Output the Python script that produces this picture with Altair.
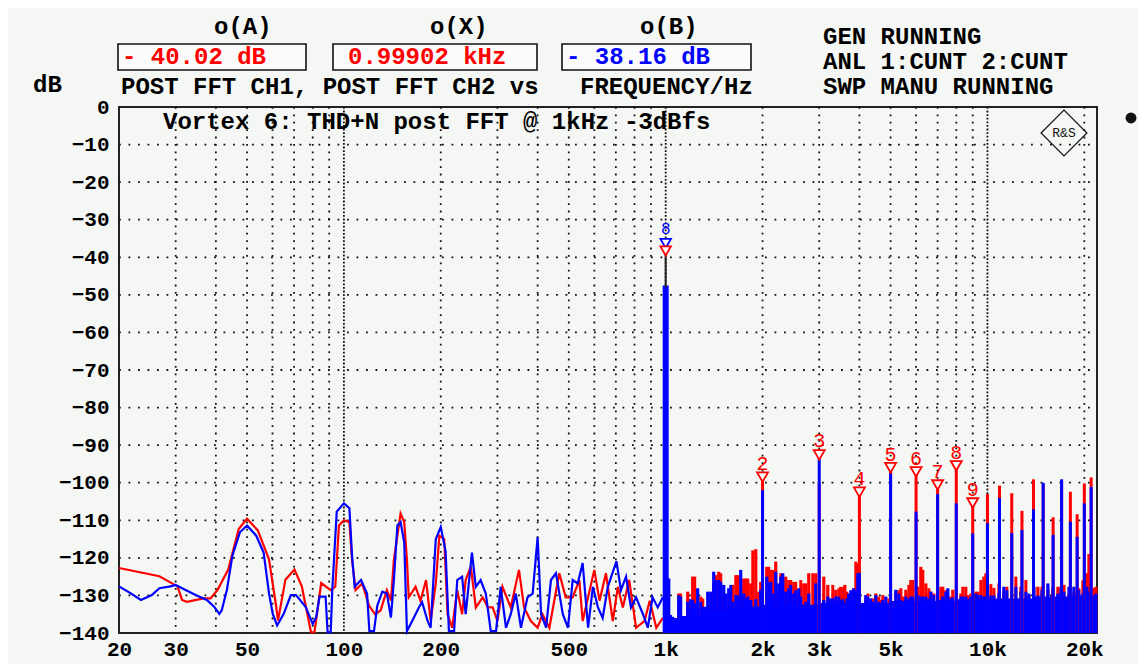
import altair as alt
import pandas as pd

BG = "#f4f7f4"
RED = "#ff0000"
BLUE = "#0000ff"
FONT = "Liberation Mono"

# ---------------- data ----------------
red_lf_f = [20, 26.7, 30.4, 31.4, 32.5, 36.6, 38.5, 40.5, 43.7, 47.1,
            50, 54, 58.5, 61.6, 62.4, 65.8, 70.2, 74, 79, 81,
            85, 91, 94, 96.5, 100, 104, 106, 108.7, 114, 119.6,
            125, 130, 136, 140, 143, 150, 154, 157, 159, 167,
            173, 180, 186, 193, 198, 205, 210, 217, 225, 233,
            239, 248, 257, 270, 280, 290, 300, 311, 330, 350,
            363, 381, 400, 414, 435, 467, 489, 514, 539, 552,
            574, 600, 623, 652, 685, 710, 736, 770, 809, 860,
            892, 935, 980]
red_lf_db = [-122.7, -124.9, -127.6, -131.2, -131.7, -130.8, -130.8, -128.5, -123.1, -112.3,
             -109.6, -112.7, -120.4, -133.0, -136.7, -125.8, -123.1, -127.6, -139.8, -139.8,
             -126.7, -128.6, -127.7, -111.4, -110, -110.5, -120.5, -128.6, -126.8, -132.7,
             -135, -134, -128.6, -131.4, -120.5, -108.2, -110.5, -120.5, -130.5, -127.7,
             -131.4, -125.9, -136.8, -126.8, -114.1, -115, -135, -138.6, -128.6, -135,
             -125.9, -122.3, -133.2, -130.5, -133.2, -133.2, -136.8, -127.7, -133.2, -123.2,
             -133.2, -136.8, -138.6, -135, -138.6, -124.1, -130.5, -130.5, -125.9, -136.8,
             -130.5, -123.2, -131.4, -124.1, -136.8, -127.7, -133.2, -125.9, -138.6, -136.8,
             -131.4, -138.6, -136]

blue_lf_f = [20, 21.7, 23.4, 25.3, 26.7, 28.9, 30, 32.1, 34.6, 37.5,
             39.5, 41, 41.7, 43.3, 45, 47.5, 50, 53.4, 56.3, 58.5,
             60.1, 62, 65, 68.4, 71, 76, 80, 82, 84, 87.7,
             89, 91, 92, 95, 100, 104, 106, 108, 113, 118,
             120, 124, 127, 131.6, 136, 140, 143, 146.6, 150, 154,
             157, 163, 171, 175, 182, 186, 193, 200, 207, 212,
             220, 225, 233, 239, 250, 257, 266, 276, 286, 297,
             307, 319, 330, 342, 355, 372, 386, 400, 410, 425,
             440, 456, 479, 497, 514, 533, 552, 574, 594, 616,
             637, 661, 703, 726, 753, 780, 809, 850, 880, 910,
             945, 980]
blue_lf_db = [-127.6, -129.4, -131.2, -129.9, -128.1, -127.6, -127.2, -128.5, -129.9, -131.2,
              -133, -134.9, -134, -128.5, -119.5, -113.2, -111.4, -114.1, -118.6, -129.4,
              -134.9, -138, -134.9, -129.9, -129.9, -133, -137.6, -135.8, -130.3, -130.3,
              -139.8, -139.8, -128.6, -107.7, -105.5, -106.8, -119.5, -127.7, -125.9, -129.5,
              -139.5, -139.5, -132.7, -129, -129.5, -135.9, -125.9, -111.4, -110.5, -115.9,
              -139.5, -136.8, -133.2, -131.8, -136.8, -138.6, -115, -111.8, -118.2, -139.5,
              -139.5, -125.9, -125, -135, -118.6, -127.7, -125.9, -129.5, -139.5, -139.5,
              -127.7, -138.6, -135, -129.5, -138.6, -130.5, -129.5, -114.5, -135, -138.6,
              -125.9, -124.1, -135, -138.6, -125.9, -126.8, -121.4, -138.6, -127.7, -133.2,
              -136, -127.7, -120.9, -128.6, -125, -133.2, -130.5, -135, -138.6, -130.5,
              -133.2, -130.5]

noise_f = [1022, 1051, 1074, 1098, 1138, 1171, 1196, 1213, 1257, 1303,
           1351, 1380, 1410, 1462, 1515, 1570, 1616, 1675, 1711, 1748,
           1799, 1838, 1905, 1946, 1974, 2061, 2121, 2198, 2246, 2311,
           2361, 2413, 2500, 2592, 2686, 2784, 2927, 3100, 3190, 3259,
           3378, 3501, 3603, 3707, 3842, 3954, 4187, 4339, 4498, 4662,
           4831, 5190, 5379, 5576, 5779, 6208, 6434, 6668, 7265, 7530,
           7804, 8385, 8690, 9336, 9745, 10469, 11247, 12703, 13450, 14346,
           15410, 16555, 17285, 18565, 19803, 20671, 21421]
noise_red = [-135, -137, -138, -129.5, -139, -129, -133, -125, -133, -130.8,
             -134, -133, -126.8, -123.7, -130, -132, -127.2, -124.6, -128, -125.5,
             -125.5, -126.8, -117.7, -129, -126.4, -122.4, -123.2, -121, -129, -127,
             -125, -125.9, -126.4, -129.5, -126.8, -124.1, -124.1, -125, -127.2, -131,
             -128.5, -127.7, -127.2, -131, -128.1, -121.5, -130.3, -132, -129.5, -131.2,
             -132, -129, -128.1, -128.5, -125.9, -122.4, -126.8, -129, -127.7, -130,
             -128.5, -127.7, -129.9, -129, -125, -128, -129, -127.7, -130, -127.7,
             -128.5, -127.7, -127.2, -129, -126, -119, -128]
noise_blue = [-125.5, -135.7, -136, -130, -137.4, -131.7, -131, -131.2, -128.1, -133,
              -129, -129, -123.7, -125.9, -127.2, -128.1, -131.7, -130, -123.2, -129.5,
              -130.3, -131.2, -131, -133, -128.5, -125, -126.4, -123.7, -126.8, -124.1,
              -129, -128.1, -129.5, -128.1, -133.4, -129.5, -126.8, -131.2, -130.3, -130.8,
              -130.3, -131.2, -132, -129.5, -128.1, -124.1, -129.9, -130.8, -129.9, -132,
              -130.3, -128.5, -131.2, -130.3, -130.3, -130.3, -130.3, -129, -130.3, -128.1,
              -130.5, -130.3, -131, -129.9, -130.3, -130, -127.7, -129, -129.5, -130,
              -126.8, -129.5, -129, -127.7, -129.5, -129, -130]

noise2_f = [1036, 1113, 1154, 1231, 1285, 1331, 1431, 1483, 1537, 1593,
            1651, 1773, 1865, 2091, 2151, 2278, 2447, 2536, 2629, 2725,
            2865, 3306, 3452, 3552, 3656, 3761, 3898, 4248, 4403, 4596,
            4729, 4937, 5303, 5457, 5698, 5863, 6077, 6298, 6574, 6813,
            7162, 7424, 7693, 8266, 8567, 8878, 9203, 9538, 9886, 10246,
            10851, 11491, 12255, 13162, 13944, 14764, 15973, 16914, 17910, 19236,
            20378, 21733]
noise2_red = [-137, -129.5, -138, -125, -130.3, -133.4, -124.6, -124.1, -130.3, -128.6,
              -124.6, -125.5, -118, -122.4, -123.2, -124.1, -125.9, -126.4, -125.9, -126.8,
              -124.1, -127.2, -128.1, -127.8, -129, -129.5, -121, -129.5, -130.8, -130.3,
              -129.9, -130.8, -128.6, -130.3, -127.2, -125.9, -127.7, -123.2, -128.1, -129.5,
              -127.7, -128.6, -130.3, -129.5, -127.7, -129.5, -129, -125.9, -124.1, -127,
              -126.8, -127.7, -125, -125.9, -127.7, -127.7, -128.6, -127.7, -129.5, -128.1,
              -124.1, -127.7]
noise2_blue = [-135.2, -130.3, -136.5, -132.1, -131.7, -133, -125.9, -126.4, -129.5, -127.2,
               -129.9, -130.8, -133, -126.4, -129.5, -125, -127.2, -128.6, -130.3, -131.7,
               -132.6, -130.8, -130.3, -131, -130.8, -128.6, -128.6, -130.3, -131.7, -131.7,
               -131.2, -132.1, -129.5, -131.7, -130.8, -130.3, -129.9, -130.3, -130.8, -129.9,
               -131.2, -129, -130.8, -130.3, -130.3, -130.3, -129.5, -129.9, -130.3, -130,
               -129.4, -128.6, -127.7, -129, -127.7, -128.6, -127.7, -128.1, -127.7, -128.6,
               -127.7, -129.5]

floor_f = [1010, 1100, 1300, 1600, 2000, 3000, 5000, 8000, 10000, 14000, 18000, 21900]
floor_db = [-137, -135.5, -134, -133, -132.5, -132, -131.5, -131, -130.8, -130.3, -130, -130]

spike_f = [2000, 3000, 4000, 5000, 6000, 7000, 8000, 9000, 10000, 10900,
           11900, 12800, 13900, 14900, 16000, 17000, 18100, 19000, 20000, 21000]
spike_red = [-98.5, -100, -101.5, -97, -97, -101.5, -96, -106, -103, -100.8,
             -102.8, -107.5, -99.1, -100.5, -109.2, -99.5, -102.4, -108.4, -100.2, -98.6]
spike_blue = [-102, -93.5, -124, -97.5, -107.7, -103, -105.5, -113.5, -110.8, -104.1,
              -113.4, -112.6, -107.1, -100, -113.9, -99.1, -110.4, -114.4, -105.5, -101.1]

fund_f = [1000]
fund_top = [-37.5]
fund_blue_top = [-47.5]

mk_f = [2000, 3000, 4000, 5000, 6000, 7000, 8000, 9000]
mk_num = ["2", "3", "4", "5", "6", "7", "8", "9"]
mk_tri = [-98.5, -92.6, -102.5, -96, -97.1, -100.6, -95.5, -105.4]
mk_txt = [-95, -89, -99.1, -92.6, -93.7, -97.2, -92.1, -101.9]

fund_mk_db = [-36.3, -38.3]
fund_mk_col = ["blue", "red"]

grid_minor_f = [30, 40, 50, 60, 70, 80, 90, 200, 300, 400, 500, 600, 700, 800, 900,
                2000, 3000, 4000, 5000, 6000, 7000, 8000, 9000, 20000]
grid_major_f = [100, 1000, 10000]
grid_db = [-10, -20, -30, -40, -50, -60, -70, -80, -90, -100, -110, -120, -130]

x_ticks = [20, 30, 50, 100, 200, 500, 1000, 2000, 3000, 5000, 10000, 20000]
y_ticks = [0, -10, -20, -30, -40, -50, -60, -70, -80, -90, -100, -110, -120, -130, -140]

# header texts (pixel layout relative to the plot's top-left corner)
hdr_t = ["dB", "o(A)", "o(X)", "o(B)",
         "POST FFT CH1, POST FFT CH2 vs", "FREQUENCY/Hz",
         "GEN RUNNING", "ANL 1:CUNT 2:CUNT", "SWP MANU RUNNING",
         "Vortex 6: THD+N post FFT @ 1kHz -3dBfs"]
hdr_x = [-86, 95, 311, 521, 2, 461, 704, 704, 704, 44]
hdr_y = [-22, -80, -80, -80, -20, -20, -70, -45, -20, 15]

box_t = ["- 40.02 dB", "0.99902 kHz", "- 38.16 dB"]
box_c = ["red", "red", "blue"]
box_x1 = [-1, 214, 443]
box_x2 = [187, 418, 632]
box_tx = [3, 229, 447]

# ---------------- scales / axes ----------------
XS = alt.Scale(type="log", domain=[20, 21900], nice=False)
YS = alt.Scale(domain=[-140, 0], nice=False)
CS = alt.Scale(domain=["red", "blue"], range=[RED, BLUE])

AX = alt.Axis(values=x_ticks, grid=False, ticks=False, domain=False,
              labelExpr="datum.value >= 1000 ? (datum.value / 1000) + 'k' : datum.value",
              labelFont=FONT, labelFontWeight="bold", labelFontSize=21,
              labelColor="#000", labelPadding=5, labelFlush=False, labelOverlap=False)
AY = alt.Axis(values=y_ticks, grid=False, ticks=False, domain=False,
              labelFont=FONT, labelFontWeight="bold", labelFontSize=21,
              labelColor="#000", labelPadding=10, labelOverlap=False)


def X():
    return alt.X("f:Q", scale=XS, axis=AX, title=None)


def Y(field="db"):
    return alt.Y(f"{field}:Q", scale=YS, axis=AY, title=None)


def PX(field):
    return alt.X(f"{field}:Q", scale=None, axis=None)


def PY(field):
    return alt.Y(f"{field}:Q", scale=None, axis=None)


# ---------------- grid ----------------
g_minor = alt.Chart(pd.DataFrame({"f": grid_minor_f, "a": 0, "b": -140})).mark_rule(
    color="#111", strokeWidth=1.8, strokeDash=[1.8, 5.6]
).encode(x=X(), y=Y("a"), y2="b:Q")

g_major = alt.Chart(pd.DataFrame({"f": grid_major_f, "a": 0, "b": -140})).mark_rule(
    color="#111", strokeWidth=1.8, strokeDash=[1.8, 1.8]
).encode(x=X(), y=Y("a"), y2="b:Q")

g_h = alt.Chart(pd.DataFrame({"db": grid_db, "f": 20, "f2": 21900})).mark_rule(
    color="#111", strokeWidth=1.8, strokeDash=[1.8, 7.7]
).encode(y=Y(), x=X(), x2="f2:Q")

# ---------------- traces ----------------
red_lf = alt.Chart(pd.DataFrame({"f": red_lf_f, "db": red_lf_db})).mark_line(
    color=RED, strokeWidth=2.2).encode(x=X(), y=Y())
blue_lf = alt.Chart(pd.DataFrame({"f": blue_lf_f, "db": blue_lf_db})).mark_line(
    color=BLUE, strokeWidth=2.2).encode(x=X(), y=Y())


def rules(fs, dbs, color, width):
    return alt.Chart(pd.DataFrame({"f": fs, "db": dbs, "b": -140})).mark_rule(
        color=color, strokeWidth=width).encode(x=X(), y=Y(), y2="b:Q")


red_noise = rules(noise_f, noise_red, RED, 3.2)
red_noise2 = rules(noise2_f, noise2_red, RED, 3)
floor = alt.Chart(pd.DataFrame({"f": floor_f, "db": floor_db, "b": -140})).mark_area(
    color=BLUE, opacity=1, interpolate="step-after").encode(x=X(), y=Y(), y2="b:Q")
blue_noise = rules(noise_f, noise_blue, BLUE, 3.2)
blue_noise2 = rules(noise2_f, noise2_blue, BLUE, 3)
red_spk = rules(spike_f, spike_red, RED, 3)
blue_spk = rules(spike_f, spike_blue, BLUE, 3)
fund_blue = rules(fund_f, fund_blue_top, BLUE, 6)
fund_black = alt.Chart(pd.DataFrame({"f": fund_f, "db": fund_top, "b": -48})).mark_rule(
    color="#222", strokeWidth=2).encode(x=X(), y=Y(), y2="b:Q")

# ---------------- markers ----------------
mk_df = pd.DataFrame({"f": mk_f, "tri": mk_tri, "txt": mk_txt, "n": mk_num})
mk_tri_l = alt.Chart(mk_df).mark_point(
    shape="triangle-down", filled=True, fill="#ffffff", stroke=RED, strokeWidth=1.8,
    size=120, opacity=1).encode(x=X(), y=Y("tri"))
mk_txt_l = alt.Chart(mk_df).mark_text(
    color=RED, font=FONT, fontSize=20, baseline="middle", align="center").encode(
    x=X(), y=Y("txt"), text="n:N")

fmk = alt.Chart(pd.DataFrame({"f": [1000, 1000], "db": fund_mk_db, "c": fund_mk_col})).mark_point(
    shape="triangle-down", filled=True, fill="#ffffff", strokeWidth=1.8, size=110, opacity=1
).encode(x=X(), y=Y(), stroke=alt.Stroke("c:N", scale=CS, legend=None))
fmk_txt = alt.Chart(pd.DataFrame({"f": [1000], "db": [-32.6], "n": ["8"]})).mark_text(
    color=BLUE, font=FONT, fontSize=16, baseline="middle").encode(x=X(), y=Y(), text="n:N")

# ---------------- header / annotation texts ----------------
hdr = alt.Chart(pd.DataFrame({"t": hdr_t, "px": hdr_x, "py": hdr_y})).mark_text(
    font=FONT, fontSize=24, fontWeight="bold", color="#000", align="left", baseline="middle"
).encode(x=PX("px"), y=PY("py"), text="t:N")

boxes_df = pd.DataFrame({"x1": box_x1, "x2": box_x2, "y1": -63, "y2": -37,
                         "t": box_t, "c": box_c, "tx": box_tx, "ty": -50})
boxes = alt.Chart(boxes_df).mark_rect(fill="#fbfbfb", stroke="#111", strokeWidth=1.6).encode(
    x=PX("x1"), x2="x2:Q", y=PY("y1"), y2="y2:Q")
box_txt = alt.Chart(boxes_df).mark_text(
    font=FONT, fontSize=24, fontWeight="bold", align="left", baseline="middle"
).encode(x=PX("tx"), y=PY("ty"), text="t:N",
         color=alt.Color("c:N", scale=CS, legend=None))

logo_df = pd.DataFrame({"px": [945], "py": [26], "t": ["R&S"]})
logo = alt.Chart(logo_df).mark_point(shape="diamond", filled=False, stroke="#111",
                                     strokeWidth=1.2, size=2100, opacity=1).encode(
    x=PX("px"), y=PY("py"))
logo_t = alt.Chart(logo_df).mark_text(font=FONT, fontSize=13, color="#111").encode(
    x=PX("px"), y=PY("py"), text="t:N")
dot = alt.Chart(pd.DataFrame({"px": [1012], "py": [11]})).mark_point(
    shape="circle", filled=True, color="#111", size=120, opacity=1).encode(
    x=PX("px"), y=PY("py"))

chart = alt.layer(
    g_minor, g_major, g_h,
    red_lf, blue_lf,
    red_noise, red_noise2, floor, blue_noise, blue_noise2,
    red_spk, blue_spk,
    fund_blue, fund_black,
    mk_tri_l, mk_txt_l, fmk, fmk_txt,
    boxes, box_txt, hdr, logo, logo_t, dot,
).properties(
    width=978, height=526,
    autosize=alt.AutoSizeParams(type="none"),
    padding={"left": 111, "top": 99, "right": 41, "bottom": 31},
    background=BG,
).configure_view(fill=BG, stroke="#222", strokeWidth=2)

chart.save("out.html", embed_options={"renderer": "svg", "actions": False})
